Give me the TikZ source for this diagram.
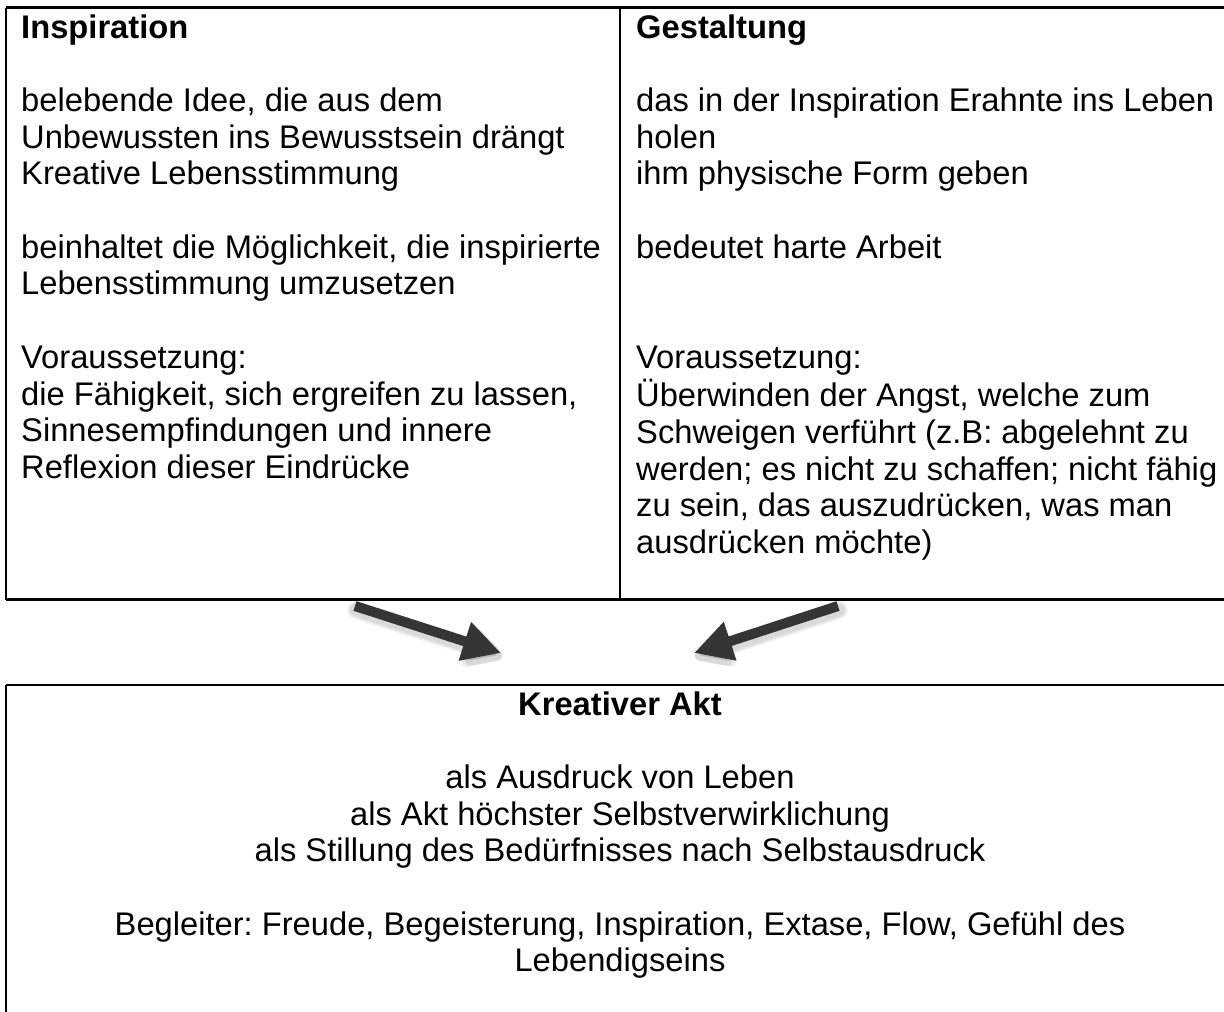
\documentclass[tikz,border=0pt]{standalone}
\usepackage{fontspec}
\setmainfont{Liberation Sans}
\frenchspacing
\usetikzlibrary{arrows.meta}
\definecolor{arrowgray}{HTML}{353535}
\tikzset{
  frame/.style={line width=2.6pt, black},
  divider/.style={line width=2.2pt, black},
  celltext/.style={inner sep=0pt, font=\fontsize{32.7}{36.7}\selectfont},
  bigarrow/.style={arrowgray, line width=10pt, -{Triangle[length=38pt,width=38pt]}},
  arrowshadow/.style={black, opacity=0.05, line cap=round, -{Triangle[length=38pt+#1,width=38pt+#1, round]}, line width=10pt+#1, transform canvas={xshift=1pt,yshift=-4pt}}
}
\begin{document}
\begin{tikzpicture}[x=1pt,y=-1pt]
\clip (0,0) rectangle (1224,1012);
\useasboundingbox (0,0) rectangle (1224,1012);
\fill[white] (0,0) rectangle (1224,1012);
% top table
\draw[frame] (6,7.5) -- (1240,7.5);
\draw[frame] (6,7.5) -- (6,599.5);
\draw[frame] (6,599.5) -- (1240,599.5);
\draw[divider] (620.3,7.5) -- (620.3,599.5);
% bottom box
\draw[frame] (6,685) -- (1240,685);
\draw[frame] (6,685) -- (6,1020);
% texts
\node[celltext, anchor=base west] (insp) at (21,38) {%
\renewcommand\arraystretch{1}%
\begin{tabular}[t]{@{}l@{}}
\textbf{Inspiration}\\
\\
belebende Idee, die aus dem\\
Unbewussten ins Bewusstsein drängt\\
Kreative Lebensstimmung\\
\\
beinhaltet die Möglichkeit, die inspirierte\\
Lebensstimmung umzusetzen\\
\\
Voraussetzung:\\
die Fähigkeit, sich ergreifen zu lassen,\\
Sinnesempfindungen und innere\\
Reflexion dieser Eindrücke
\end{tabular}};
\node[celltext, anchor=base west] (gest) at (636,38) {%
\renewcommand\arraystretch{1}%
\begin{tabular}[t]{@{}l@{}}
\textbf{Gestaltung}\\
\\
das in der Inspiration Erahnte ins Leben\\
holen\\
ihm physische Form geben\\
\\
bedeutet harte Arbeit\\
\\
\\
Voraussetzung:\\
Überwinden der Angst, welche zum\\
Schweigen verführt (z.B: abgelehnt zu\\
werden; es nicht zu schaffen; nicht fähig\\
zu sein, das auszudrücken, was man\\
ausdrücken möchte)
\end{tabular}};
\node[celltext, anchor=base] (akt) at (620,715) {%
\renewcommand\arraystretch{1}%
\begin{tabular}[t]{@{}c@{}}
\textbf{Kreativer Akt}\\
\\
als Ausdruck von Leben\\
als Akt höchster Selbstverwirklichung\\
als Stillung des Bedürfnisses nach Selbstausdruck\\
\\
Begleiter: Freude, Begeisterung, Inspiration, Extase, Flow, Gefühl des\\
Lebendigseins
\end{tabular}};
% arrows
\coordinate (la1) at (355,606);
\coordinate (la2) at (501,653);
\coordinate (ra1) at (838,606);
\coordinate (ra2) at (694,653);
\foreach \w in {2,5,8} {
  \draw[arrowshadow=\w] (la1) -- (la2);
  \draw[arrowshadow=\w] (ra1) -- (ra2);
}
\draw[bigarrow] (la1) -- (la2);
\draw[bigarrow] (ra1) -- (ra2);
\end{tikzpicture}
\end{document}
